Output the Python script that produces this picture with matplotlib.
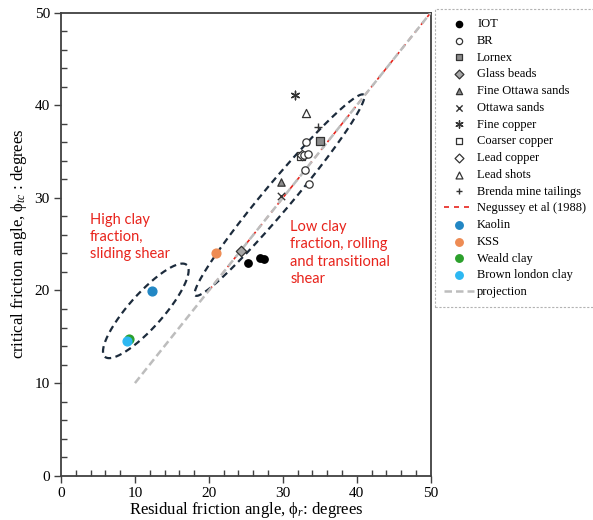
import numpy as np
import matplotlib
matplotlib.use("Agg")
import matplotlib.pyplot as plt

plt.rcParams['font.family'] = ['Liberation Serif', 'DejaVu Serif']
plt.rcParams['mathtext.fontset'] = 'custom'
plt.rcParams['mathtext.rm'] = 'Liberation Serif'
plt.rcParams['mathtext.it'] = 'Liberation Serif:italic'

# data (residual angle, critical angle)
iot_x = [25.3, 26.9, 27.5]
iot_y = [23.0, 23.5, 23.4]
br_x = [33.2, 32.8, 33.4, 33.0, 33.5]
br_y = [36.0, 34.6, 34.7, 33.0, 31.5]
lornex_x = [35.0]
lornex_y = [36.1]
glass_x = [24.3]
glass_y = [24.3]
fine_ottawa_x = [29.8]
fine_ottawa_y = [31.7]
ottawa_x = [29.7]
ottawa_y = [30.2]
fine_copper_x = [31.7]
fine_copper_y = [41.1]
coarse_copper_x = [32.4]
coarse_copper_y = [34.5]
lead_copper_x = [32.6]
lead_copper_y = [34.6]
lead_shots_x = [33.1]
lead_shots_y = [39.2]
brenda_x = [34.7]
brenda_y = [37.7]
kaolin_x = [12.3]
kaolin_y = [19.95]
kss_x = [20.9]
kss_y = [24.0]
weald_x = [9.25]
weald_y = [14.8]
london_x = [8.9]
london_y = [14.5]
negussey_x = [20, 50]
negussey_y = [20, 50]
proj_x = [10, 50]
proj_y = [10, 50]

fig = plt.figure(figsize=(5.93, 5.2), dpi=100)
ax = fig.add_axes([0.1029, 0.0852, 0.6234, 0.8904])
ax.set_xlim(0, 50)
ax.set_ylim(0, 50)

ec = '#333333'
ax.plot(negussey_x, negussey_y, color='#e8241c', lw=1.2, ls=(0, (3, 3)),
        label='Negussey et al (1988)', zorder=2)
ax.plot(proj_x, proj_y, color='#bdbdbd', lw=1.8, ls=(0, (3, 1.6)),
        label='projection', zorder=3)

# dashed ellipses, built in pixel space then mapped back to data
def ellipse(cx, cy, a, b, ang):
    c = ax.transData.transform((cx, cy))
    t = np.linspace(0, 2 * np.pi, 300)
    th = np.radians(ang)
    px = c[0] + a * np.cos(t) * np.cos(th) - b * np.sin(t) * np.sin(th)
    py = c[1] + a * np.cos(t) * np.sin(th) + b * np.sin(t) * np.cos(th)
    d = ax.transData.inverted().transform(np.column_stack([px, py]))
    ax.plot(d[:, 0], d[:, 1], color='#1c2b3c', lw=1.6, ls=(0, (3, 2)), zorder=2)

ellipse(29.55, 30.3, 131, 14, 50)
ellipse(11.47, 17.8, 61.5, 17, 48.3)

s = 28
ax.scatter(iot_x, iot_y, s=s, c='black', marker='o', label='IOT', zorder=5)
ax.scatter(br_x, br_y, s=s, facecolor='white', edgecolor=ec, lw=0.9, marker='o', label='BR', zorder=5)
ax.scatter(lornex_x, lornex_y, s=s, facecolor='#8c8c8c', edgecolor=ec, lw=0.9, marker='s', label='Lornex', zorder=5)
ax.scatter(glass_x, glass_y, s=s, facecolor='#a6a6a6', edgecolor=ec, lw=0.9, marker='D', label='Glass beads', zorder=5)
ax.scatter(fine_ottawa_x, fine_ottawa_y, s=s, facecolor='#8c8c8c', edgecolor=ec, lw=0.9, marker='^', label='Fine Ottawa sands', zorder=5)
ax.scatter(ottawa_x, ottawa_y, s=s, c=ec, lw=1.0, marker='x', label='Ottawa sands', zorder=5)
ax.scatter(fine_copper_x, fine_copper_y, s=s + 10, c=ec, lw=1.0, marker=(6, 2, 0), label='Fine copper', zorder=5)
ax.scatter(coarse_copper_x, coarse_copper_y, s=s, facecolor='white', edgecolor=ec, lw=0.9, marker='s', label='Coarser copper', zorder=4)
ax.scatter(lead_copper_x, lead_copper_y, s=s, facecolor='white', edgecolor=ec, lw=0.9, marker='D', label='Lead copper', zorder=4)
ax.scatter(lead_shots_x, lead_shots_y, s=s + 6, facecolor='white', edgecolor=ec, lw=0.9, marker='^', label='Lead shots', zorder=5)
ax.scatter(brenda_x, brenda_y, s=s + 6, c=ec, lw=1.0, marker='+', label='Brenda mine tailings', zorder=5)
ax.scatter(kaolin_x, kaolin_y, s=40, c='#2287c4', label='Kaolin', zorder=5)
ax.scatter(kss_x, kss_y, s=40, c='#ee8c54', label='KSS', zorder=5)
ax.scatter(weald_x, weald_y, s=40, c='#2ca02c', label='Weald clay', zorder=5)
ax.scatter(london_x, london_y, s=40, c='#2db8f2', label='Brown london clay', zorder=6)

ax.text(3.9, 28.4, 'High clay\nfraction,\nsliding shear', color='#e8241c',
        family=['Lato', 'DejaVu Sans'], fontsize=10.5, va='top', linespacing=1.3)
ax.text(31.0, 27.6, 'Low clay\nfraction, rolling\nand transitional\nshear', color='#e8241c',
        family=['Lato', 'DejaVu Sans'], fontsize=10.5, va='top', linespacing=1.3)

ax.set_xticks(range(0, 51, 10))
ax.set_yticks(range(0, 51, 10))
ax.set_xticks(range(0, 51, 2), minor=True)
ax.set_yticks(range(0, 51, 2), minor=True)
ax.tick_params(which='major', direction='out', length=5, width=1, color='#404040', labelsize=11, pad=3)
ax.tick_params(which='minor', direction='in', length=4, width=1, color='#404040')
for sp in ax.spines.values():
    sp.set_color('#404040')
    sp.set_linewidth(1.3)

ax.set_xlabel(r'Residual friction angle, ϕ$_r$: degrees', fontsize=12, labelpad=0)
ax.set_ylabel(r'critical friction angle, ϕ$_{tc}$ : degrees', fontsize=12, labelpad=4)

h, l = ax.get_legend_handles_labels()
order = ['IOT', 'BR', 'Lornex', 'Glass beads', 'Fine Ottawa sands', 'Ottawa sands',
         'Fine copper', 'Coarser copper', 'Lead copper', 'Lead shots',
         'Brenda mine tailings', 'Negussey et al (1988)', 'Kaolin', 'KSS',
         'Weald clay', 'Brown london clay', 'projection']
hd = dict(zip(l, h))
leg = fig.legend([hd[k] for k in order], order, loc='upper left',
                 bbox_to_anchor=(0.734, 0.982), borderaxespad=0, fontsize=9,
                 labelspacing=0.38, handlelength=2.4, handletextpad=0.25,
                 borderpad=0.7, fancybox=False, scatterpoints=1, markerscale=0.85)
fr = leg.get_frame()
fr.set_edgecolor('#a0a0a0')
fr.set_linestyle((0, (2, 1.5)))
fr.set_linewidth(0.8)

fig.savefig('out.png', dpi=100)
